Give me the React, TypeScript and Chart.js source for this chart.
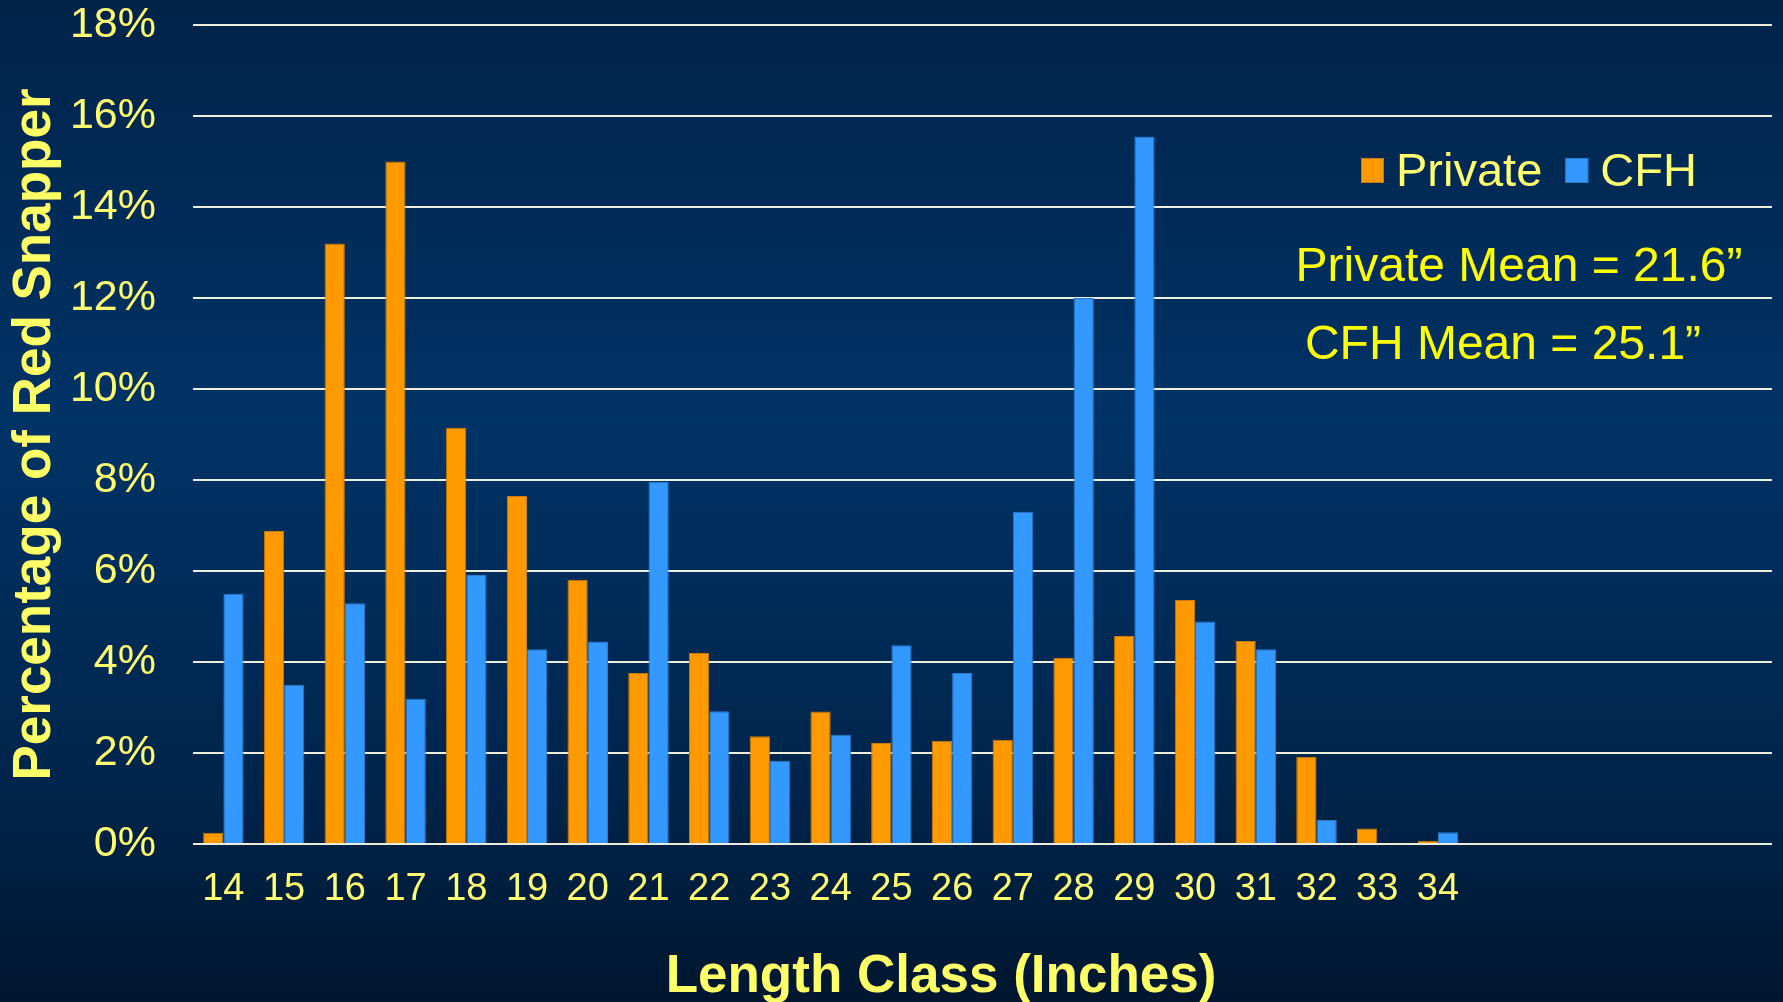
import React, { useEffect, useRef } from 'react';
import { Chart, registerables } from 'chart.js';

Chart.register(...registerables);

// ---- data ----
const categories = ['14', '15', '16', '17', '18', '19', '20', '21', '22', '23', '24', '25', '26', '27', '28', '29', '30', '31', '32', '33', '34', '', '', '', '', ''];
const privateValues = [0.25, 6.88, 13.2, 15.0, 9.15, 7.65, 5.81, 3.76, 4.2, 2.37, 2.91, 2.22, 2.27, 2.29, 4.09, 4.57, 5.36, 4.46, 1.92, 0.34, 0.07];
const cfhValues = [5.5, 3.5, 5.29, 3.19, 5.91, 4.28, 4.45, 7.96, 2.92, 1.83, 2.4, 4.37, 3.76, 7.3, 12.0, 15.55, 4.89, 4.28, 0.53, 0, 0.26];
const seriesNames = ['Private', 'CFH'];
const meanLabels = ['Private Mean = 21.6\u201D', 'CFH Mean = 25.1\u201D'];
const yMin = 0;
const yMax = 18;
const yStep = 2;
const xTitle = 'Length Class (Inches)';
const yTitle = 'Percentage of Red Snapper';

const ORANGE = '#FF9900';
const BLUE = '#3399FF';
const TICK_YELLOW = '#FFFF70';
const TITLE_YELLOW = '#FFFF66';
const MEAN_YELLOW = '#FFFF00';
const REGULAR = '"Liberation Sans", Arial, sans-serif';

const bgPlugin = {
  id: 'bgGradient',
  beforeDraw(chart: any) {
    const { ctx, width, height } = chart;
    const g = ctx.createLinearGradient(0, 0, 0, height);
    g.addColorStop(0, '#01234a');
    g.addColorStop(0.42, '#003366');
    g.addColorStop(0.78, '#00254c');
    g.addColorStop(1, '#00162f');
    ctx.save();
    ctx.fillStyle = g;
    ctx.fillRect(0, 0, width, height);
    ctx.restore();
  },
};

const overlayPlugin = {
  id: 'overlay',
  afterDraw(chart: any) {
    const { ctx } = chart;
    ctx.save();
    // legend
    const colors = [ORANGE, BLUE];
    const borders = ['#CC7A00', '#2A7ACC'];
    ctx.font = `47px ${REGULAR}`;
    ctx.textBaseline = 'alphabetic';
    ctx.textAlign = 'left';
    let x = 1361;
    seriesNames.forEach((name, i) => {
      ctx.fillStyle = colors[i];
      ctx.fillRect(x, 158, 23, 25);
      ctx.strokeStyle = borders[i];
      ctx.lineWidth = 1;
      ctx.strokeRect(x + 0.5, 158.5, 22, 24);
      x += 23 + 12;
      ctx.fillStyle = TICK_YELLOW;
      ctx.fillText(name, x, 186);
      x += ctx.measureText(name).width + 23;
    });
    // means
    ctx.font = `48px ${REGULAR}`;
    ctx.textAlign = 'center';
    ctx.fillStyle = MEAN_YELLOW;
    ctx.fillText(meanLabels[0], 1519, 281);
    ctx.fillText(meanLabels[1], 1503, 359);
    // x title
    ctx.font = `bold 53px ${REGULAR}`;
    ctx.textBaseline = 'middle';
    ctx.fillStyle = TITLE_YELLOW;
    ctx.fillText(xTitle, 941, 977);
    ctx.restore();
  },
};

export default function App() {
  const ref = useRef<HTMLCanvasElement | null>(null);

  useEffect(() => {
    if (!ref.current) return;
    const chart = new Chart(ref.current, {
      type: 'bar',
      data: {
        labels: categories,
        datasets: [
          {
            label: seriesNames[0],
            data: privateValues,
            backgroundColor: ORANGE,
            borderColor: '#CC7A00',
            borderWidth: 1,
            categoryPercentage: 0.667,
            barPercentage: 1.0,
          },
          {
            label: seriesNames[1],
            data: cfhValues,
            backgroundColor: BLUE,
            borderColor: '#2A7ACC',
            borderWidth: 1,
            categoryPercentage: 0.667,
            barPercentage: 1.0,
          },
        ],
      },
      options: {
        responsive: false,
        animation: false,
        layout: { padding: { top: 25, right: 11, left: 0, bottom: 0 } },
        plugins: {
          legend: { display: false },
          tooltip: { enabled: false },
        },
        scales: {
          x: {
            grid: { display: false, drawTicks: false },
            border: { display: false },
            ticks: {
              color: TICK_YELLOW,
              font: { family: REGULAR, size: 38 },
              padding: 23,
              maxRotation: 0,
              autoSkip: false,
            },
            afterFit: (scale: any) => {
              scale.height = 158;
              scale.paddingLeft = 0;
              scale.paddingRight = 0;
            },
          },
          y: {
            min: yMin,
            max: yMax,
            grid: { color: '#EEEEDD', lineWidth: 2, drawTicks: false },
            border: { display: false },
            ticks: {
              stepSize: yStep,
              color: TICK_YELLOW,
              font: { family: REGULAR, size: 43 },
              padding: 37,
              callback: (v: any) => `${v}%`,
            },
            title: {
              display: true,
              text: yTitle,
              color: TITLE_YELLOW,
              font: { family: REGULAR, size: 53, weight: 'bold' },
              padding: { top: 4, bottom: 0 },
            },
            afterFit: (scale: any) => {
              scale.width = 193;
              scale.paddingTop = 0;
              scale.paddingBottom = 0;
            },
          },
        },
      },
      plugins: [bgPlugin, overlayPlugin],
    });
    return () => chart.destroy();
  }, []);

  return (
    <div style={{ position: 'fixed', left: 0, top: 0, width: 1783, height: 1002 }}>
      <canvas ref={ref} width={1783} height={1002} />
    </div>
  );
}
